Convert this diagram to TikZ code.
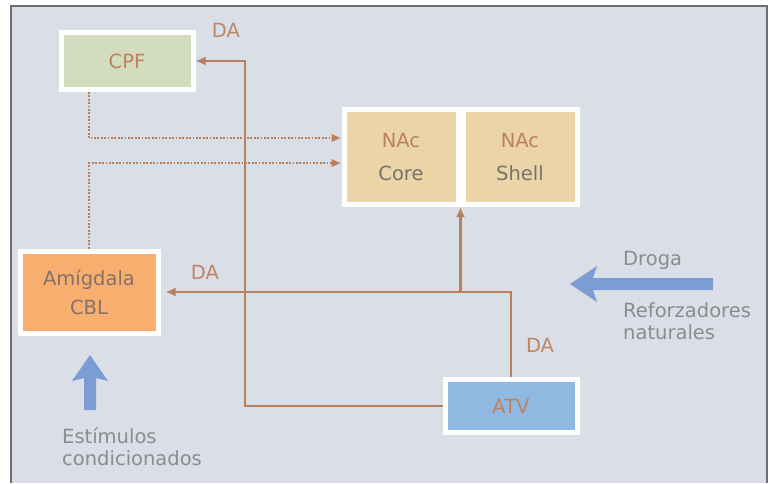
\documentclass[tikz,border=0pt]{standalone}
\usepackage{fontspec}
\setmainfont{DejaVu Sans}
\usepackage{xcolor}
\usetikzlibrary{arrows.meta,positioning,calc}
\definecolor{bgblue}{HTML}{DADEE7}
\definecolor{framegrey}{HTML}{6E6E6E}
\definecolor{linebrown}{HTML}{B9805F}
\definecolor{labelbrown}{HTML}{C08565}
\definecolor{cpfgreen}{HTML}{D3DDBD}
\definecolor{nacsand}{HTML}{EBD4A6}
\definecolor{amygorange}{HTML}{F8AE6E}
\definecolor{atvblue}{HTML}{8FB9E0}
\definecolor{arrowblue}{HTML}{7D9CD4}
\definecolor{boxbrown}{HTML}{BE8160}
\definecolor{coregrey}{HTML}{77736F}
\definecolor{amygtext}{HTML}{857268}
\definecolor{notegrey}{HTML}{8C8C8C}

\begin{document}
\begin{tikzpicture}[
  x=1pt, y=-1pt,
  font=\fontsize{19.5}{22}\selectfont,
  box/.style={draw=white, line width=5pt, align=center, inner sep=0pt, font=\fontsize{19.5}{29}\selectfont},
  >={Latex[length=10pt,width=9pt]},
  arrline/.style={->, draw=linebrown, line width=2.6pt},
  dotline/.style={->, draw=linebrown, line width=2.4pt, dash pattern=on 1.8pt off 1.6pt},
  lbl/.style={text=labelbrown},
  note/.style={text=notegrey, align=left, inner sep=0pt},
]
\useasboundingbox (0,0) rectangle (773,483);
\fill[bgblue] (11,6) rectangle (767,483);
\draw[framegrey, line width=1.2pt] (11,483) -- (11,6) -- (767,6) -- (767,483);

% regions
\node[box, fill=cpfgreen, minimum width=132pt, minimum height=57pt, text=boxbrown] (cpf) at (127,61) {CPF};
\node[box, fill=nacsand, minimum width=114pt, minimum height=95pt, font=\fontsize{19.5}{33}\selectfont] (core) at (401,157) {\textcolor{boxbrown}{NAc}\\\textcolor{coregrey}{Core}};
\node[box, fill=nacsand, minimum width=114pt, minimum height=95pt, font=\fontsize{19.5}{33}\selectfont, right=0pt of core] (shell) {\textcolor{boxbrown}{NAc}\\\textcolor{coregrey}{Shell}};
\node[box, fill=amygorange, minimum width=138pt, minimum height=82pt, text=amygtext] (amyg) at (89,292) {Amígdala\\CBL};
\node[box, fill=atvblue, minimum width=132pt, minimum height=53pt, text=boxbrown] (atv) at (511,406) {ATV};

% DA pathways
\coordinate (daturn) at (245,61);
\coordinate (nacin) at ($(core.south east)!0.5!(shell.south west)$);
\draw[arrline] (atv.west) -| (daturn) -- (cpf.east);
\draw[arrline, shorten >=5pt] (atv.north) |- (amyg.east);
\draw[arrline] (nacin |- amyg.east) -- (nacin);
\draw[dotline] (cpf.south -| amyg.north) |- ([yshift=19pt]core.west);
\draw[dotline] (amyg.north) |- ([yshift=-6pt]core.west);

\node[lbl] (daCPF) at (226,30) {DA};
\node[lbl] (daAmyg) at (205,272) {DA};
\node[lbl] (daATV) at (540,345) {DA};

% inputs
\fill[arrowblue] (713,278) -- (593,278) -- (597,266) -- (570,284) -- (597,302) -- (593,290) -- (713,290) -- cycle;
\fill[arrowblue] (84,410) -- (84,378) -- (72,381) -- (90,355) -- (108,381) -- (96,378) -- (96,410) -- cycle;
\node[note, anchor=west] (droga) at (623,260) {Droga};
\node[note, anchor=west] (reforz) at (623,321) {Reforzadores\\naturales};
\node[note, anchor=west] (estim) at (62,447) {Estímulos\\condicionados};
\end{tikzpicture}
\end{document}
